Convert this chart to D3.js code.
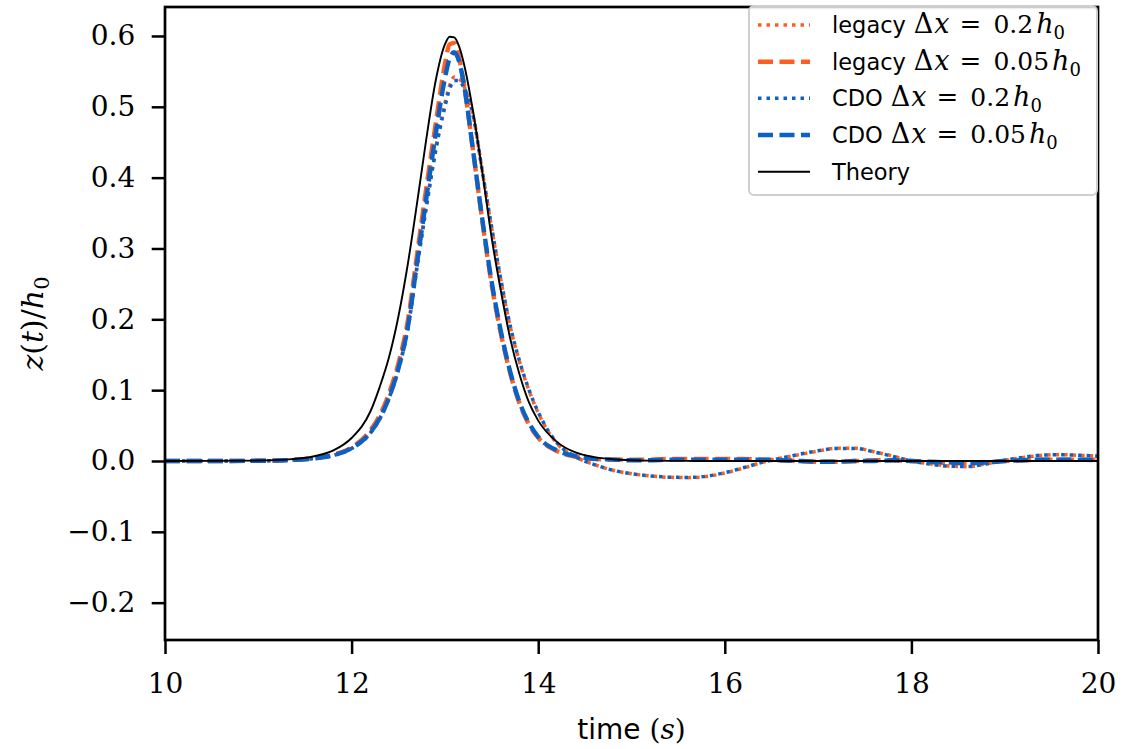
<!DOCTYPE html>
<html>
<head>
<meta charset="utf-8">
<script src="https://cdn.jsdelivr.net/npm/d3@7"></script>
<style>
  html, body { margin: 0; padding: 0; background: #fff; }
  svg { display: block; }
</style>
</head>
<body>
<svg id="chart" width="1123" height="749"></svg>
<script>
// ---------------- data ----------------
const time = [10, 10.5, 11, 11.3, 11.6, 11.8, 12.0, 12.2, 12.3, 12.4, 12.5, 12.6, 12.7, 12.8, 12.9,
  13.0, 13.05, 13.1, 13.15, 13.2, 13.3, 13.4, 13.5, 13.6, 13.7, 13.8, 13.9,
  14.0, 14.2, 14.4, 14.6, 14.8, 15.0, 15.2, 15.4, 15.6, 15.8,
  16.0, 16.2, 16.4, 16.6, 16.8, 17.0, 17.2, 17.4, 17.6, 17.8,
  18.0, 18.2, 18.4, 18.6, 18.8, 19.0, 19.2, 19.4, 19.6, 19.8, 20.0];

const legacyCoarse = [0, 0, 0.0003, 0.0011, 0.0037, 0.008, 0.018, 0.040, 0.060, 0.089, 0.13, 0.187, 0.275, 0.36, 0.44,
  0.505, 0.53, 0.542, 0.54, 0.53, 0.49, 0.41, 0.33, 0.255, 0.19, 0.14, 0.10,
  0.068, 0.025, 0.006, -0.005, -0.013, -0.018, -0.021, -0.023, -0.0235, -0.022,
  -0.017, -0.010, -0.002, 0.004, 0.009, 0.014, 0.018, 0.018, 0.013, 0.007,
  0.0, -0.004, -0.007, -0.008, -0.004, 0.001, 0.005, 0.008, 0.009, 0.008, 0.007];

const legacyFine = [0, 0, 0.0003, 0.0012, 0.004, 0.0085, 0.019, 0.043, 0.064, 0.095, 0.137, 0.196, 0.29, 0.385, 0.475,
  0.56, 0.588, 0.59, 0.57, 0.535, 0.44, 0.34, 0.25, 0.18, 0.124, 0.081, 0.052,
  0.033, 0.014, 0.006, 0.003, 0.002, 0.002, 0.002, 0.003, 0.003, 0.003,
  0.003, 0.003, 0.002, 0.001, 0.0, -0.001, -0.001, 0.0, 0.001, 0.001,
  0.0, -0.002, -0.003, -0.003, -0.002, 0.0, 0.001, 0.002, 0.002, 0.002, 0.002];

const cdoCoarse = [0, 0, 0.0003, 0.0011, 0.0036, 0.0078, 0.0175, 0.039, 0.059, 0.088, 0.128, 0.184, 0.272, 0.357, 0.437,
  0.5, 0.525, 0.537, 0.537, 0.528, 0.489, 0.41, 0.331, 0.256, 0.191, 0.141, 0.101,
  0.069, 0.026, 0.006, -0.005, -0.013, -0.018, -0.021, -0.0228, -0.0232, -0.0215,
  -0.0165, -0.0095, -0.002, 0.004, 0.0095, 0.0145, 0.0178, 0.0178, 0.0128, 0.0065,
  0.0, -0.0045, -0.0072, -0.0078, -0.0042, 0.0012, 0.0052, 0.0082, 0.0088, 0.0082, 0.007];

const cdoFine = [0, 0, 0.0003, 0.0011, 0.0037, 0.008, 0.018, 0.040, 0.060, 0.089, 0.13, 0.187, 0.278, 0.37, 0.46,
  0.54, 0.568, 0.577, 0.565, 0.535, 0.44, 0.342, 0.254, 0.183, 0.126, 0.083, 0.054,
  0.034, 0.015, 0.007, 0.003, 0.002, 0.001, 0.001, 0.002, 0.002, 0.002,
  0.002, 0.002, 0.002, 0.001, 0.0, -0.001, -0.001, 0.0, 0.0, 0.001,
  0.0, -0.001, -0.002, -0.003, -0.002, 0.0, 0.001, 0.002, 0.002, 0.002, 0.001];

const theory = [0, 0.0001, 0.0006, 0.002, 0.0067, 0.0147, 0.0325, 0.0695, 0.104, 0.146, 0.203, 0.276, 0.3625, 0.454, 0.536,
  0.588, 0.599, 0.598, 0.586, 0.563, 0.495, 0.409, 0.316, 0.24, 0.173, 0.122, 0.083,
  0.057, 0.027, 0.012, 0.0055, 0.0025, 0.0011, 0.0005, 0.0002, 0.0001, 0,
  0, 0, 0, 0, 0, 0, 0, 0, 0, 0,
  0, 0, 0, 0, 0, 0, 0, 0, 0, 0, 0];

const seriesNames = ["legacy", "legacy", "CDO", "CDO", "Theory"];
const seriesRes = ["0.2", "0.05", "0.2", "0.05", null];
const seriesValues = [legacyCoarse, legacyFine, cdoCoarse, cdoFine, theory];

const xTicks = [10, 12, 14, 16, 18, 20];
const yTicks = [-0.2, -0.1, 0.0, 0.1, 0.2, 0.3, 0.4, 0.5, 0.6];

// ---------------- styles ----------------
const ORANGE = "#ff5e1f", BLUE = "#0b62c4";
const styles = [
  { color: ORANGE, width: 3.5, dash: "3.5,5.0" },
  { color: ORANGE, width: 4.4, dash: "15,6.5" },
  { color: BLUE,   width: 3.5, dash: "3.5,5.0" },
  { color: BLUE,   width: 4.4, dash: "15,6.5" },
  { color: "#000", width: 1.9, dash: null }
];

const SERIF = "'DejaVu Serif', serif";
const SANS = "'DejaVu Sans', sans-serif";

const svg = d3.select("#chart");
const L = 165, R = 1098, T = 7, B = 640;

const x = d3.scaleLinear().domain([10, 20]).range([L, R]);
const y = d3.scaleLinear().domain([-0.2527, 0.6409]).range([B, T]);

svg.append("defs").append("clipPath").attr("id", "clip")
  .append("rect").attr("x", L).attr("y", T).attr("width", R - L).attr("height", B - T);

const line = d3.line().x(d => x(d[0])).y(d => y(d[1])).curve(d3.curveMonotoneX);

const plot = svg.append("g").attr("clip-path", "url(#clip)");
seriesValues.forEach((vals, i) => {
  const pts = time.map((t, k) => [t, vals[k]]);
  const st = styles[i];
  plot.append("path")
    .attr("d", line(pts))
    .attr("fill", "none")
    .attr("stroke", st.color)
    .attr("stroke-width", st.width)
    .attr("stroke-dasharray", st.dash)
    .attr("stroke-linecap", "butt")
    .attr("stroke-linejoin", "round");
});

// axes
const xAxis = svg.append("g").attr("transform", `translate(0,${B})`)
  .call(d3.axisBottom(x).tickValues(xTicks).tickSize(14).tickPadding(19).tickFormat(d3.format("d")));
const yAxis = svg.append("g").attr("transform", `translate(${L},0)`)
  .call(d3.axisLeft(y).tickValues(yTicks).tickSize(13.3).tickPadding(16.5).tickFormat(d3.format(".1f")));
[xAxis, yAxis].forEach(a => {
  a.select(".domain").remove();
  a.selectAll(".tick line").attr("stroke", "#000").attr("stroke-width", 2.5);
  a.selectAll(".tick text").attr("fill", "#000").style("font-family", SERIF).style("font-size", "28px");
});

// spines
svg.append("rect").attr("x", L).attr("y", T).attr("width", R - L).attr("height", B - T)
  .attr("fill", "none").attr("stroke", "#000").attr("stroke-width", 2.7);

// axis labels
const xl = svg.append("text").attr("x", (L + R) / 2).attr("y", 739).attr("text-anchor", "middle")
  .style("font-size", "28px").attr("fill", "#000");
xl.append("tspan").style("font-family", SANS).text("time ");
xl.append("tspan").style("font-family", SERIF).text("(");
xl.append("tspan").style("font-family", SERIF).style("font-style", "italic").text("s");
xl.append("tspan").style("font-family", SERIF).text(")");

const yl = svg.append("text").attr("transform", `translate(43,${(T + B) / 2}) rotate(-90)`)
  .attr("text-anchor", "middle").style("font-size", "30px").style("font-family", SERIF).attr("fill", "#000");
yl.append("tspan").style("font-style", "italic").text("z");
yl.append("tspan").text("(");
yl.append("tspan").style("font-style", "italic").text("t");
yl.append("tspan").text(")/");
yl.append("tspan").style("font-style", "italic").text("h");
yl.append("tspan").attr("dy", 6).style("font-size", "21px").text("0");

// legend
const leg = svg.append("g");
leg.append("rect").attr("x", 749).attr("y", 6).attr("width", 348).attr("height", 189).attr("rx", 5)
  .attr("fill", "#fff").attr("fill-opacity", 0.8).attr("stroke", "#cfcfcf").attr("stroke-width", 2);
const rowY = [25, 61.7, 98.3, 135, 171.7];
seriesNames.forEach((name, i) => {
  const st = styles[i];
  const cy = rowY[i];
  leg.append("line").attr("x1", 758).attr("x2", 810).attr("y1", cy).attr("y2", cy)
    .attr("stroke", st.color).attr("stroke-width", st.width)
    .attr("stroke-dasharray", st.dash).attr("stroke-linecap", "butt");
  const tx = leg.append("text").attr("x", 832).attr("y", cy + 8).style("font-size", "22.5px").attr("fill", "#000");
  tx.append("tspan").style("font-family", SANS).text(name);
  if (seriesRes[i]) {
    tx.append("tspan").style("font-family", SERIF).style("font-size", "27px").attr("dx", 8).text("Δ");
    tx.append("tspan").style("font-family", SERIF).style("font-size", "27px").style("font-style", "italic").attr("dx", 1).text("x");
    tx.append("tspan").style("font-family", SERIF).style("font-size", "26px").attr("dx", 10).text("=");
    tx.append("tspan").style("font-family", SERIF).style("font-size", "25px").attr("dx", 12).text(seriesRes[i]);
    tx.append("tspan").style("font-family", SERIF).style("font-size", "27px").style("font-style", "italic").attr("dx", 3).text("h");
    tx.append("tspan").style("font-family", SERIF).style("font-size", "18px").attr("dy", 6).text("0");
  }
});
</script>
</body>
</html>
